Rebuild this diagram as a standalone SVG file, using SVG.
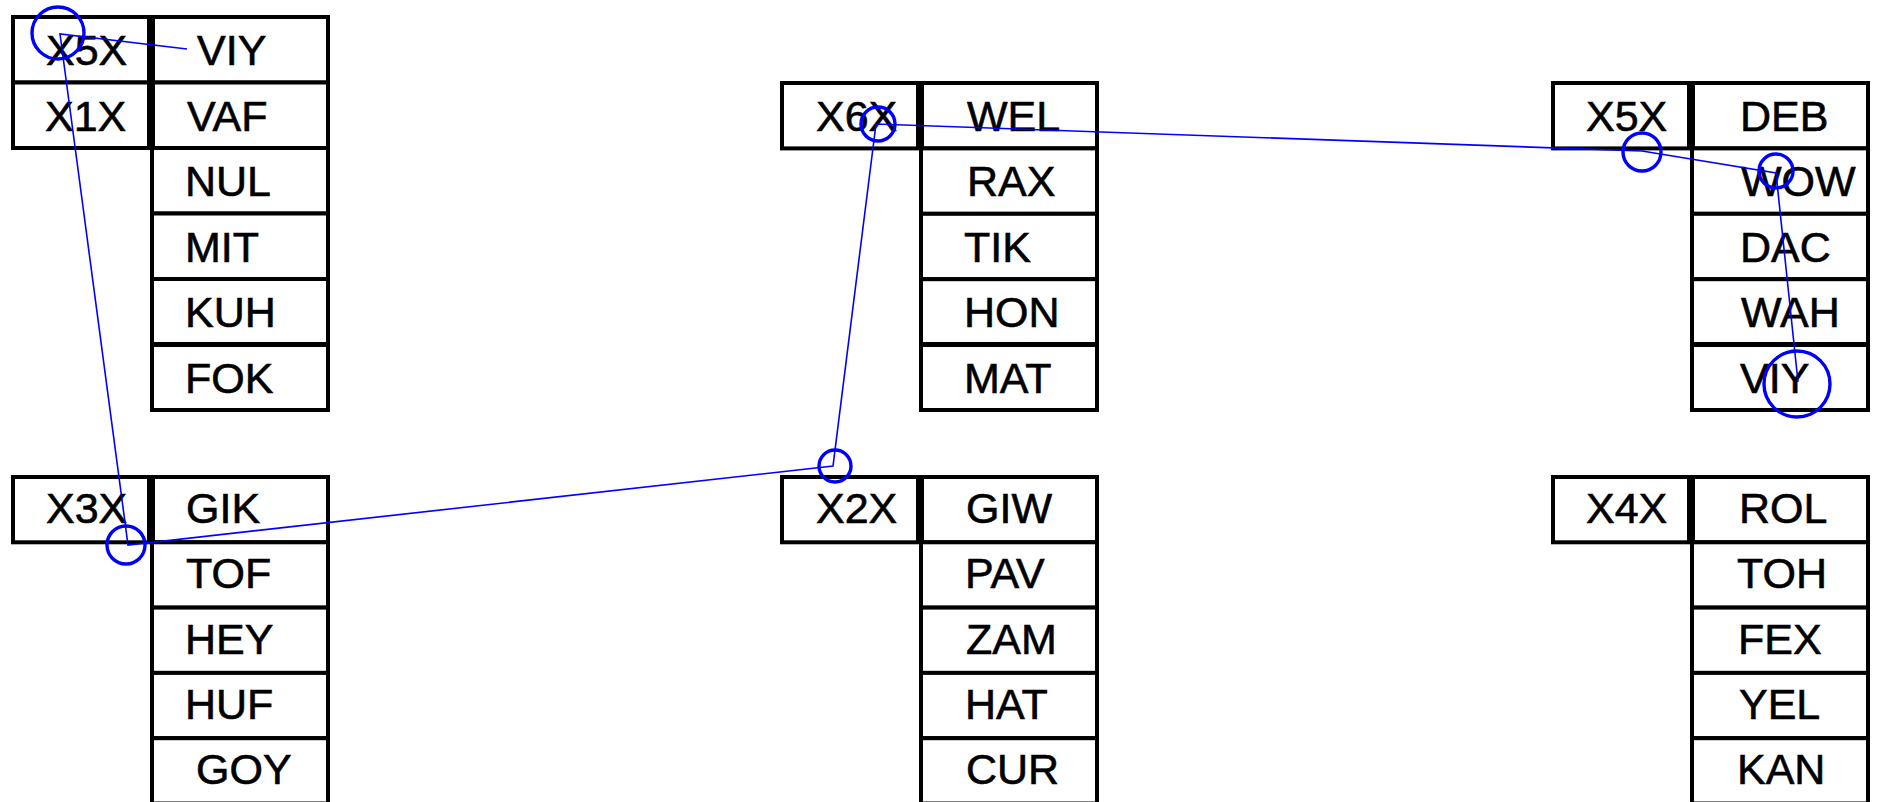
<svg xmlns="http://www.w3.org/2000/svg" width="1877" height="802" viewBox="0 0 1877 802">
  <defs>
    <style>
      .cell { fill: #ffffff; stroke: #000000; stroke-width: 4; }
      .bar { fill: #000000; }
      .lbl { font-family: "Liberation Sans", Arial, Helvetica, sans-serif; font-size: 43px; fill: #000000; stroke: #000000; stroke-width: 0.6; }
      .link { fill: none; stroke: #0000ff; stroke-width: 1.6; stroke-linejoin: miter; }
      .ring { fill: none; stroke: #0000ff; stroke-width: 3.4; }
    </style>
  </defs>
  <rect x="0" y="0" width="1877" height="802" fill="#ffffff"/>

  <!-- record X5X / X1X -->
  <g id="rec-x5x-x1x">
    <rect class="cell" x="13" y="17" width="136" height="65.5"/>
    <rect class="cell" x="13" y="82.5" width="136" height="65.5"/>
    <rect class="cell" x="152" y="17" width="176" height="65.5"/>
    <rect class="cell" x="152" y="82.5" width="176" height="65.5"/>
    <rect class="cell" x="152" y="148" width="176" height="65.5"/>
    <rect class="cell" x="152" y="213.5" width="176" height="65.5"/>
    <rect class="cell" x="152" y="279" width="176" height="65.5"/>
    <rect class="cell" x="152" y="344.5" width="176" height="65.5"/>
    <rect class="bar" x="147" y="15" width="8" height="135"/>
    <rect class="bar" x="150" y="342" width="180" height="5"/>
    <text class="lbl" x="46" y="65">X5X</text>
    <text class="lbl" x="45" y="130.5">X1X</text>
    <text class="lbl" x="197" y="65">VIY</text>
    <text class="lbl" x="187" y="130.5">VAF</text>
    <text class="lbl" x="185" y="196">NUL</text>
    <text class="lbl" x="185" y="261.5">MIT</text>
    <text class="lbl" x="185" y="327">KUH</text>
    <text class="lbl" x="185" y="392.5">FOK</text>
  </g>

  <!-- record X6X -->
  <g id="rec-x6x">
    <rect class="cell" x="782" y="83" width="136" height="65.4"/>
    <rect class="cell" x="921" y="83" width="176" height="65.4"/>
    <rect class="cell" x="921" y="148.4" width="176" height="65.4"/>
    <rect class="cell" x="921" y="213.8" width="176" height="65.4"/>
    <rect class="cell" x="921" y="279.2" width="176" height="65.4"/>
    <rect class="cell" x="921" y="344.6" width="176" height="65.4"/>
    <rect class="bar" x="916" y="81" width="8" height="69"/>
    <rect class="bar" x="919" y="342" width="180" height="5"/>
    <text class="lbl" x="816" y="131">X6X</text>
    <text class="lbl" x="967" y="131">WEL</text>
    <text class="lbl" x="967" y="196.4">RAX</text>
    <text class="lbl" x="964" y="261.8">TIK</text>
    <text class="lbl" x="964" y="327.2">HON</text>
    <text class="lbl" x="964" y="392.6">MAT</text>
  </g>

  <!-- record X5X / DEB -->
  <g id="rec-x5x-deb">
    <rect class="cell" x="1553" y="83" width="136" height="65.4"/>
    <rect class="cell" x="1692" y="83" width="176" height="65.4"/>
    <rect class="cell" x="1692" y="148.4" width="176" height="65.4"/>
    <rect class="cell" x="1692" y="213.8" width="176" height="65.4"/>
    <rect class="cell" x="1692" y="279.2" width="176" height="65.4"/>
    <rect class="cell" x="1692" y="344.6" width="176" height="65.4"/>
    <rect class="bar" x="1687" y="81" width="8" height="69"/>
    <rect class="bar" x="1690" y="342" width="180" height="5"/>
    <text class="lbl" x="1586" y="131">X5X</text>
    <text class="lbl" x="1740" y="131">DEB</text>
    <text class="lbl" x="1741" y="196.4">WOW</text>
    <text class="lbl" x="1740" y="261.8">DAC</text>
    <text class="lbl" x="1741" y="327.2">WAH</text>
    <text class="lbl" x="1740" y="392.6">VIY</text>
  </g>

  <!-- record X3X -->
  <g id="rec-x3x">
    <rect class="cell" x="13" y="477" width="136" height="65.3"/>
    <rect class="cell" x="152" y="477" width="176" height="65.3"/>
    <rect class="cell" x="152" y="542.3" width="176" height="65.3"/>
    <rect class="cell" x="152" y="607.6" width="176" height="65.3"/>
    <rect class="cell" x="152" y="672.9" width="176" height="65.3"/>
    <rect class="cell" x="152" y="738.2" width="176" height="65.3"/>
    <rect class="bar" x="147" y="475" width="8" height="69"/>
    <text class="lbl" x="46" y="523">X3X</text>
    <text class="lbl" x="186" y="523">GIK</text>
    <text class="lbl" x="186" y="588.3">TOF</text>
    <text class="lbl" x="185" y="653.6">HEY</text>
    <text class="lbl" x="185" y="718.9">HUF</text>
    <text class="lbl" x="196" y="784.2">GOY</text>
  </g>

  <!-- record X2X -->
  <g id="rec-x2x">
    <rect class="cell" x="782" y="477" width="136" height="65.3"/>
    <rect class="cell" x="921" y="477" width="176" height="65.3"/>
    <rect class="cell" x="921" y="542.3" width="176" height="65.3"/>
    <rect class="cell" x="921" y="607.6" width="176" height="65.3"/>
    <rect class="cell" x="921" y="672.9" width="176" height="65.3"/>
    <rect class="cell" x="921" y="738.2" width="176" height="65.3"/>
    <rect class="bar" x="916" y="475" width="8" height="69"/>
    <text class="lbl" x="816" y="523">X2X</text>
    <text class="lbl" x="966" y="523">GIW</text>
    <text class="lbl" x="965" y="588.3">PAV</text>
    <text class="lbl" x="966" y="653.6">ZAM</text>
    <text class="lbl" x="965" y="718.9">HAT</text>
    <text class="lbl" x="966" y="784.2">CUR</text>
  </g>

  <!-- record X4X -->
  <g id="rec-x4x">
    <rect class="cell" x="1553" y="477" width="136" height="65.3"/>
    <rect class="cell" x="1692" y="477" width="176" height="65.3"/>
    <rect class="cell" x="1692" y="542.3" width="176" height="65.3"/>
    <rect class="cell" x="1692" y="607.6" width="176" height="65.3"/>
    <rect class="cell" x="1692" y="672.9" width="176" height="65.3"/>
    <rect class="cell" x="1692" y="738.2" width="176" height="65.3"/>
    <rect class="bar" x="1687" y="475" width="8" height="69"/>
    <text class="lbl" x="1586" y="523">X4X</text>
    <text class="lbl" x="1739" y="523">ROL</text>
    <text class="lbl" x="1737" y="588.3">TOH</text>
    <text class="lbl" x="1738" y="653.6">FEX</text>
    <text class="lbl" x="1739" y="718.9">YEL</text>
    <text class="lbl" x="1737" y="784.2">KAN</text>
  </g>

  <!-- blue path through the record fields, ringed at each stop -->
  <g id="connectors">
    <polyline class="link" points="187,49 60,34 128,545 833,466 876,124 1642,151 1776,173 1798,382"/>
    <circle class="ring" cx="58" cy="33" r="26"/>
    <circle class="ring" cx="126" cy="545" r="19"/>
    <circle class="ring" cx="835" cy="466" r="16"/>
    <circle class="ring" cx="878" cy="124" r="17"/>
    <circle class="ring" cx="1642" cy="152" r="19"/>
    <circle class="ring" cx="1776" cy="171" r="17"/>
    <circle class="ring" cx="1797" cy="384" r="33"/>
  </g>
</svg>
